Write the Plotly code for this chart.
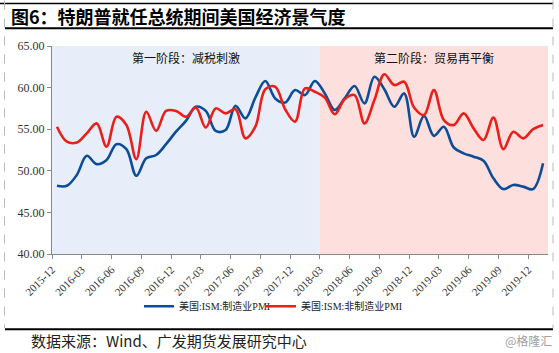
import plotly.graph_objects as go

# ---- data ----
months = ["2015-12",
          "2016-01", "2016-02", "2016-03", "2016-04", "2016-05", "2016-06",
          "2016-07", "2016-08", "2016-09", "2016-10", "2016-11", "2016-12",
          "2017-01", "2017-02", "2017-03", "2017-04", "2017-05", "2017-06",
          "2017-07", "2017-08", "2017-09", "2017-10", "2017-11", "2017-12",
          "2018-01", "2018-02", "2018-03", "2018-04", "2018-05", "2018-06",
          "2018-07", "2018-08", "2018-09", "2018-10", "2018-11", "2018-12",
          "2019-01", "2019-02", "2019-03", "2019-04", "2019-05", "2019-06",
          "2019-07", "2019-08", "2019-09", "2019-10", "2019-11", "2019-12",
          "2020-01"]
pmi_mfg = [48.2,
           48.2, 49.5, 51.8, 50.8, 51.3, 53.2,
           52.6, 49.4, 51.5, 51.9, 53.2, 54.7,
           56.0, 57.7, 57.2, 54.8, 54.9, 57.8,
           56.3, 58.8, 60.8, 58.7, 58.2, 59.7,
           59.1, 60.8, 59.3, 57.3, 58.7, 60.2,
           58.1, 61.3, 59.8, 57.7, 59.3, 54.1,
           56.6, 54.2, 55.3, 52.8, 52.1, 51.7,
           51.2, 49.1, 47.8, 48.3, 48.1, 47.8,
           50.9]
pmi_nonmfg = [55.3,
              53.5, 53.4, 54.5, 55.7, 52.9, 56.5,
              55.5, 51.4, 57.1, 54.8, 57.2, 57.2,
              56.5, 57.6, 55.2, 57.5, 56.9, 57.4,
              53.9, 55.3, 59.8, 60.1, 57.4, 55.9,
              59.9, 59.5, 58.8, 56.8, 58.6, 59.1,
              55.7, 58.5, 61.6, 60.3, 60.7, 57.6,
              56.7, 59.7, 56.1, 55.5, 56.9, 55.1,
              53.7, 56.4, 52.6, 54.7, 53.9, 55.0,
              55.5]
series_names = ["美国:ISM:制造业PMI", "美国:ISM:非制造业PMI"]
phase_labels = ["第一阶段：减税刺激", "第二阶段：贸易再平衡"]
phase2_start = "2018-03"
title_text = "图6：特朗普就任总统期间美国经济景气度"
source_text = "数据来源：Wind、广发期货发展研究中心"
watermark = "@格隆汇"
tick_months = months[::3]

# ---- layout geometry (pixels) ----
W, H = 559, 353
PL, PR, PT, PB = 52, 548, 45.7, 254.5
pw, ph = PR - PL, PB - PT

def px(x):
    return (x - PL) / pw

def py(y):
    return (PB - y) / ph

idx = list(range(len(months)))
split = months.index(phase2_start) - 0.5
xmin, xmax = -0.5, len(months) - 0.5

fig = go.Figure()
fig.add_trace(go.Scatter(x=idx, y=pmi_mfg, mode="lines", name=series_names[0], legend="legend",
                         line=dict(color="#0D4D98", width=2.6, shape="spline", smoothing=1.0)))
fig.add_trace(go.Scatter(x=idx, y=pmi_nonmfg, mode="lines", name=series_names[1], legend="legend2",
                         line=dict(color="#EA1F19", width=2.6, shape="spline", smoothing=1.0)))

shapes = [
    dict(type="rect", xref="x", yref="y", x0=xmin, x1=split, y0=40, y1=65,
         fillcolor="#E7EEF9", line=dict(width=0), layer="below"),
    dict(type="rect", xref="x", yref="y", x0=split, x1=xmax, y0=40, y1=65,
         fillcolor="#FDDFDD", line=dict(width=0), layer="below"),
    # frame
    dict(type="line", xref="paper", yref="paper", x0=px(0), x1=px(553), y0=py(3), y1=py(3),
         line=dict(color="#000", width=1.5)),
    dict(type="line", xref="paper", yref="paper", x0=px(5), x1=px(553), y0=py(28), y1=py(28),
         line=dict(color="#000", width=2)),
    dict(type="line", xref="paper", yref="paper", x0=px(5), x1=px(553), y0=py(330), y1=py(330),
         line=dict(color="#000", width=2)),
    dict(type="line", xref="paper", yref="paper", x0=px(4.5), x1=px(4.5), y0=py(0), y1=py(329),
         line=dict(color="#BBBBBB", width=1, dash="dash")),
    dict(type="line", xref="paper", yref="paper", x0=px(553), x1=px(553), y0=py(0), y1=py(329),
         line=dict(color="#BBBBBB", width=1, dash="dash")),
]

annotations = [
    dict(text="<b>" + title_text + "</b>", xref="paper", yref="paper", x=px(9), y=py(16),
         xanchor="left", yanchor="middle", showarrow=False,
         font=dict(family="Noto Sans CJK SC", size=18, color="#000")),
    dict(text=phase_labels[0], xref="x", yref="paper", x=(xmin + split) / 2, y=py(57),
         xanchor="center", yanchor="middle", showarrow=False,
         font=dict(family="Noto Sans CJK SC", size=12, color="#111")),
    dict(text=phase_labels[1], xref="x", yref="paper", x=(split + xmax) / 2, y=py(57),
         xanchor="center", yanchor="middle", showarrow=False,
         font=dict(family="Noto Sans CJK SC", size=12, color="#111")),
    dict(text=source_text, xref="paper", yref="paper", x=px(29), y=py(341),
         xanchor="left", yanchor="middle", showarrow=False,
         font=dict(family="Noto Sans CJK SC", size=15, color="#222")),
    dict(text=watermark, xref="paper", yref="paper", x=px(554), y=py(341),
         xanchor="right", yanchor="middle", showarrow=False,
         font=dict(family="Noto Sans CJK SC", size=12, color="#A0A0A0")),
]

legend_font = dict(family="Liberation Serif, Noto Sans CJK SC", size=10, color="#222")

fig.update_layout(
    width=W, height=H,
    margin=dict(l=PL, r=W - PR, t=PT, b=H - PB),
    paper_bgcolor="white", plot_bgcolor="white",
    shapes=shapes, annotations=annotations,
    showlegend=True,
    legend=dict(orientation="h", x=px(139), xanchor="left", y=py(307), yanchor="middle",
                font=legend_font, bgcolor="rgba(0,0,0,0)", itemwidth=30),
    legend2=dict(orientation="h", x=px(261), xanchor="left", y=py(307), yanchor="middle",
                 font=legend_font, bgcolor="rgba(0,0,0,0)", itemwidth=30),
    xaxis=dict(range=[xmin, xmax], tickmode="array",
               tickvals=[months.index(m) - 0.5 for m in tick_months], ticktext=tick_months,
               tickangle=-45, ticks="outside", ticklen=4, tickcolor="#888",
               showline=True, linecolor="#888", linewidth=1, showgrid=False, zeroline=False,
               tickfont=dict(family="Liberation Serif", size=11, color="#333")),
    yaxis=dict(range=[40, 65], dtick=5, tickformat=".2f", ticks="outside", ticklen=4,
               tickcolor="#888", showline=True, linecolor="#888", linewidth=1,
               showgrid=False, zeroline=False,
               tickfont=dict(family="Liberation Serif", size=12, color="#333")),
)

fig.write_html("out.html")
